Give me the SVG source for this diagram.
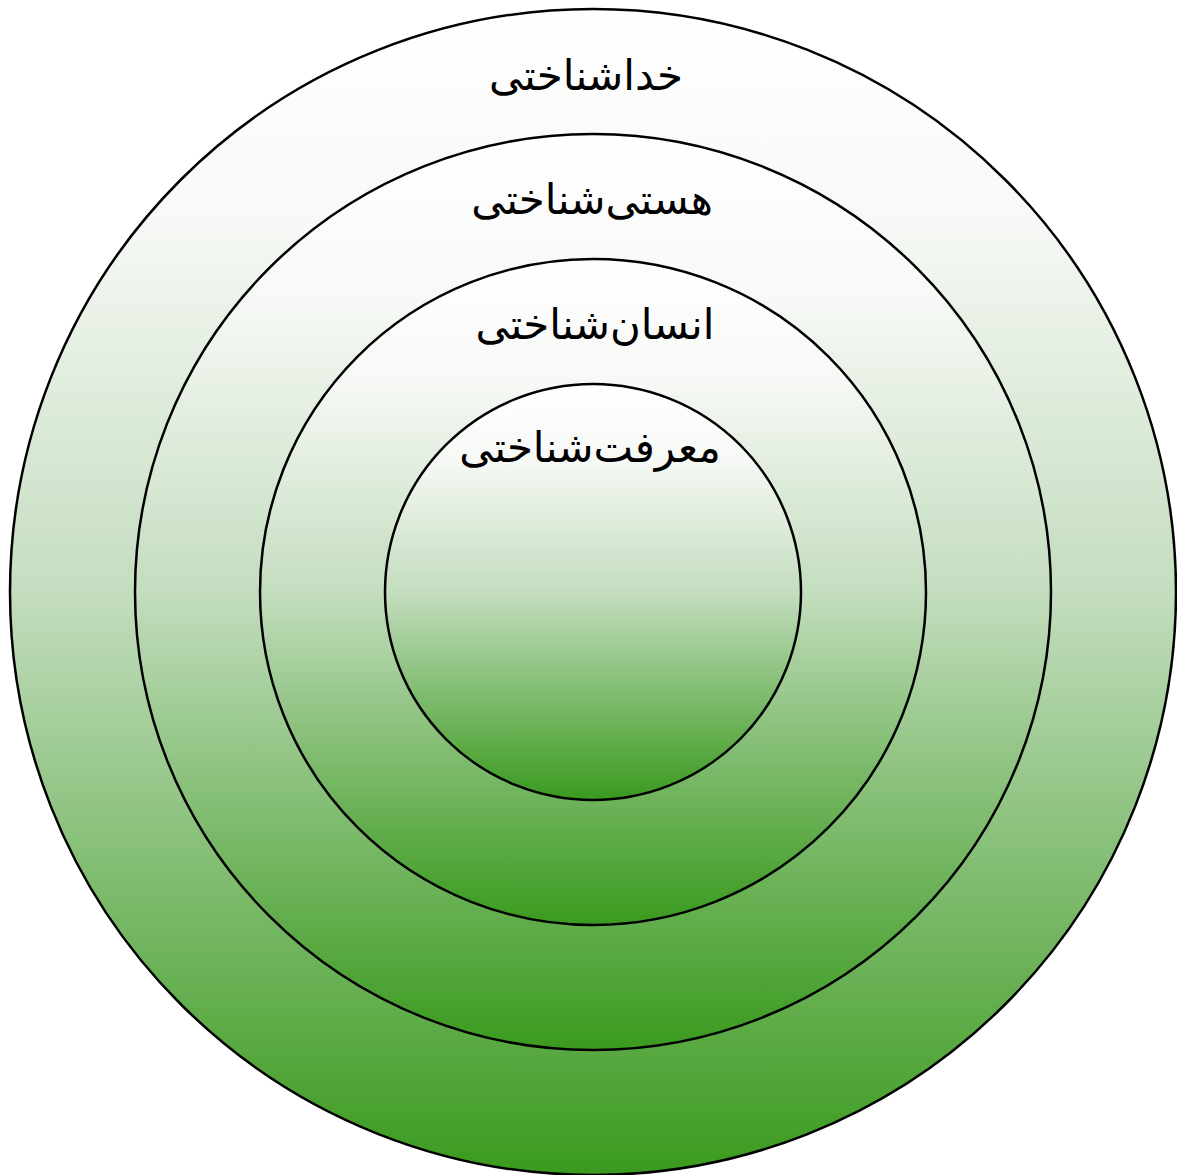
<svg xmlns="http://www.w3.org/2000/svg" width="1177" height="1175" viewBox="0 0 1177 1175">
<defs>
<linearGradient id="g" x1="0" y1="0" x2="0" y2="1">
<stop offset="0" stop-color="#ffffff"/>
<stop offset="0.18" stop-color="#f7f9f6"/>
<stop offset="0.5" stop-color="#c4ddbf"/>
<stop offset="1" stop-color="#3a9a1e"/>
</linearGradient>
</defs>
<style>
circle{fill:url(#g);stroke:#000;stroke-width:2.5}
text{font-family:"DejaVu Sans",sans-serif;font-size:42px;text-anchor:middle;fill:#000}
</style>
<g id="ring1"><circle cx="593" cy="592" r="583"/><text x="586" y="90" direction="rtl">خداشناختی</text></g>
<g id="ring2"><circle cx="593" cy="592" r="458"/><text x="592" y="214" direction="rtl">هستی&#x200C;شناختی</text></g>
<g id="ring3"><circle cx="593" cy="592" r="333"/><text x="595" y="339" direction="rtl">انسان&#x200C;شناختی</text></g>
<g id="ring4"><circle cx="593" cy="592" r="208"/><text x="590" y="462" direction="rtl">معرفت&#x200C;شناختی</text></g>
<g id="connectors"/>
</svg>
